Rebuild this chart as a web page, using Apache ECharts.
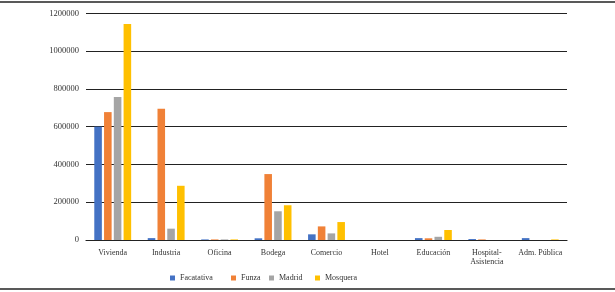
<!DOCTYPE html>
<html>
<head>
<meta charset="utf-8">
<script src="https://cdn.jsdelivr.net/npm/echarts@6/dist/echarts.min.js"></script>
<style>
html, body { margin: 0; padding: 0; background: #fff; }
#chart { width: 615px; height: 292px; }
</style>
</head>
<body>
<div id="chart"></div>
<script>
var categorias = ['Vivienda', 'Industria', 'Oficina', 'Bodega', 'Comercio', 'Hotel', 'Educación', 'Hospital-\nAsistencia', 'Adm. Pública'];
var facatativa = [600000, 10000, 3000, 9000, 30000, 0, 10000, 5000, 10000];
var funza      = [677000, 695000, 3000, 349000, 72000, 0, 9000, 3000, 0];
var madrid     = [757000, 60000, 3000, 152000, 35000, 0, 17000, 0, 0];
var mosquera   = [1143000, 287000, 3000, 184000, 95000, 0, 53000, 0, 3000];
var nombres = ['Facatativa', 'Funza', 'Madrid', 'Mosquera'];
var colores = ['#4472C4', '#F08137', '#A5A5A5', '#FFC000'];
var legendaX = [168, 229, 267, 313];

var e = echarts.init(document.getElementById('chart'));
var fuente = 'Liberation Serif';

function serie(i, datos) {
	return {
		name: nombres[i],
		type: 'bar',
		barGap: '29%',
		barCategoryGap: '31%',
		itemStyle: { color: colores[i] },
		data: datos
	};
}

var legendas = nombres.map(function(n, i) {
	return {
		data: [n],
		left: legendaX[i],
		top: 272,
		padding: 2,
		itemWidth: 5,
		itemHeight: 5,
		icon: 'rect',
		textStyle: { fontFamily: fuente, fontSize: 8, color: '#333' }
	};
});

var a = {
	animation: false,
	color: colores,
	legend: legendas,
	grid: { left: 86, right: 48, top: 13.3, bottom: 52 },
	xAxis: {
		type: 'category',
		data: categorias,
		axisTick: { show: false },
		axisLine: { lineStyle: { color: '#222', width: 1.2 } },
		axisLabel: { interval: 0, fontFamily: fuente, fontSize: 8, color: '#333', margin: 8, lineHeight: 9 }
	},
	yAxis: {
		type: 'value',
		min: 0,
		max: 1200000,
		interval: 200000,
		axisLine: { show: false },
		axisTick: { show: false },
		splitLine: { lineStyle: { color: '#222', width: 1.2 } },
		axisLabel: {
			fontFamily: fuente, fontSize: 8.5, color: '#333', margin: 7,
			formatter: function(v) { return String(v); }
		}
	},
	graphic: [
		{ type: 'line', shape: { x1: 0, y1: 2, x2: 615, y2: 2 }, style: { stroke: '#222', lineWidth: 1.5 } },
		{ type: 'line', shape: { x1: 0, y1: 289, x2: 615, y2: 289 }, style: { stroke: '#222', lineWidth: 1.5 } }
	],
	series: [serie(0, facatativa), serie(1, funza), serie(2, madrid), serie(3, mosquera)]
};
e.setOption(a);
window.addEventListener('resize', e.resize);
</script>
</body>
</html>
